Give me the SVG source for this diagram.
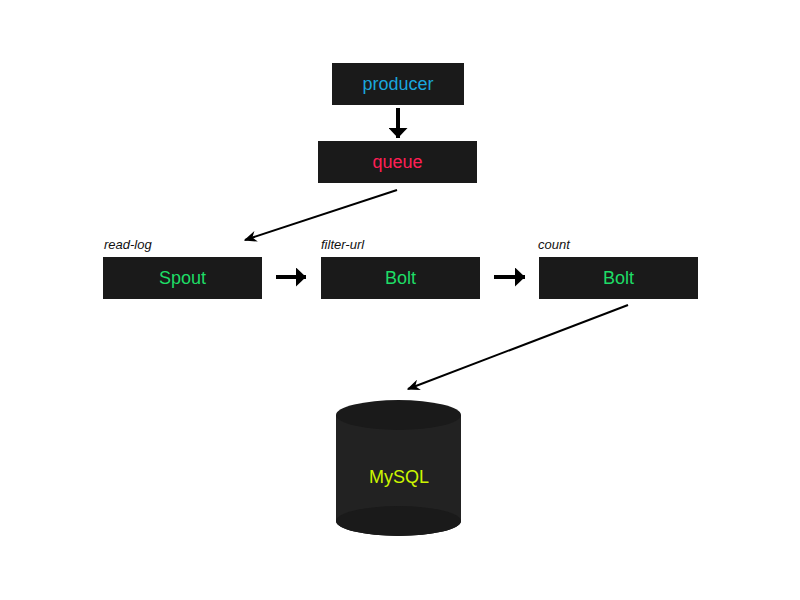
<svg xmlns="http://www.w3.org/2000/svg" width="800" height="600" viewBox="0 0 800 600">
<style>
.box{fill:#1a1a1a}
.t{font-family:"Liberation Sans",Arial,sans-serif;font-size:18px;text-anchor:middle}
.lbl{font-family:"Liberation Sans",Arial,sans-serif;font-size:13px;font-style:italic;fill:#111}
.thick{stroke:#000;stroke-width:4;fill:none}
.thin{stroke:#000;stroke-width:2;fill:none}
</style>
<defs>
<marker id="bigH" viewBox="0 0 10 10" refX="10" refY="5" markerWidth="10" markerHeight="19" markerUnits="userSpaceOnUse" orient="auto" preserveAspectRatio="none"><path d="M0,0 L10,5 L0,10 z" fill="#000"/></marker>
<marker id="small" viewBox="0 0 10 10" refX="9" refY="5" markerWidth="13" markerHeight="11" markerUnits="userSpaceOnUse" orient="auto" preserveAspectRatio="none"><path d="M0,0 L10,5 L0,10 L3,5 z" fill="#000"/></marker>
</defs>
<rect width="800" height="600" fill="#fff"/>
<g id="connectors">
<line class="thick" x1="398" y1="108" x2="398" y2="138" marker-end="url(#bigH)"/>
<line class="thick" x1="276" y1="277" x2="306" y2="277" marker-end="url(#bigH)"/>
<line class="thick" x1="494" y1="277" x2="525" y2="277" marker-end="url(#bigH)"/>
<line class="thin" x1="397" y1="190" x2="245" y2="240" marker-end="url(#small)"/>
<line class="thin" x1="628" y1="305" x2="408" y2="389" marker-end="url(#small)"/>
</g>
<g id="producer">
<rect class="box" x="332" y="63" width="132" height="42"/>
<text class="t" x="398" y="90" fill="#1aa6dc">producer</text>
</g>
<g id="queue">
<rect class="box" x="318" y="141" width="159" height="42"/>
<text class="t" x="397.5" y="168" fill="#ff1f55">queue</text>
</g>
<g id="spout">
<text class="lbl" x="104" y="249">read-log</text>
<rect class="box" x="103" y="257" width="159" height="42"/>
<text class="t" x="182.5" y="284" fill="#1edd66">Spout</text>
</g>
<g id="bolt-filter">
<text class="lbl" x="321" y="249">filter-url</text>
<rect class="box" x="321" y="257" width="159" height="42"/>
<text class="t" x="400.5" y="284" fill="#1edd66">Bolt</text>
</g>
<g id="bolt-count">
<text class="lbl" x="538" y="249">count</text>
<rect class="box" x="539" y="257" width="159" height="42"/>
<text class="t" x="618.5" y="284" fill="#1edd66">Bolt</text>
</g>
<g id="mysql">
<path d="M336,415 L336,521 A62.5,15 0 0 0 461,521 L461,415 Z" fill="#222"/>
<ellipse cx="398.5" cy="521" rx="62.5" ry="15" fill="#1a1a1a"/>
<ellipse cx="398.5" cy="415" rx="62.5" ry="15" fill="#1a1a1a"/>
<text class="t" x="399" y="483" fill="#ccf500">MySQL</text>
</g>
</svg>
